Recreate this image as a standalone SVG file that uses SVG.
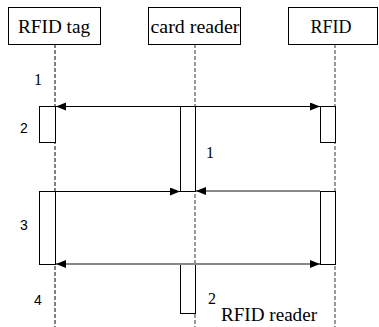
<svg xmlns="http://www.w3.org/2000/svg" width="379" height="327" viewBox="0 0 379 327">
<style>
.box{fill:#fff;stroke:#000;stroke-width:1}
.bar{fill:#fff;stroke:#000;stroke-width:1}
.title{font-family:'Liberation Serif','Times New Roman',serif;font-size:18px;fill:#000}
.num{font-family:'Liberation Sans',Arial,sans-serif;font-size:14px;fill:#000}
.snum{font-family:'Liberation Serif','Times New Roman',serif;font-size:16px;fill:#000}
.life1{stroke:#000;stroke-width:1;stroke-dasharray:4 2;fill:none}
.life2{stroke:#999;stroke-width:2;stroke-dasharray:4 2;fill:none}
.msg{stroke:#000;stroke-width:1;fill:none}
.msgg{stroke:#888;stroke-width:2;fill:none}
</style>
<defs>
<marker id="ah" markerUnits="userSpaceOnUse" markerWidth="12" markerHeight="10" refX="10" refY="4" orient="auto-start-reverse">
<path d="M0,0 L10,4 L0,8 Z" fill="#000"/>
</marker>
</defs>
<rect width="379" height="327" fill="#fff"/>
<g id="lifelines">
<line class="life1" x1="55" y1="44" x2="55" y2="327"/>
<line class="life2" x1="195" y1="44" x2="195" y2="327"/>
<line class="life2" x1="335" y1="44" x2="335" y2="327"/>
</g>
<g id="tag">
<rect class="box" x="8.5" y="7.5" width="92" height="37"/>
<text class="title" x="54" y="33" text-anchor="middle" textLength="72" lengthAdjust="spacingAndGlyphs">RFID tag</text>
</g>
<g id="cardreader">
<rect class="box" x="148.5" y="7.5" width="92" height="37"/>
<text class="title" x="195" y="33" text-anchor="middle" textLength="89" lengthAdjust="spacingAndGlyphs">card reader</text>
</g>
<g id="rfid">
<rect class="box" x="288.5" y="7.5" width="89" height="37"/>
<text class="title" x="331" y="33" text-anchor="middle">RFID</text>
</g>
<g id="bars">
<rect class="bar" x="39.5" y="106.5" width="16" height="36"/>
<rect class="bar" x="320.5" y="106.5" width="15" height="36"/>
<rect class="bar" x="180.5" y="106.5" width="15" height="85"/>
<rect class="bar" x="39.5" y="191.5" width="16" height="73"/>
<rect class="bar" x="320.5" y="191.5" width="15" height="73"/>
<rect class="bar" x="180.5" y="264.5" width="15" height="49"/>
</g>
<g id="connectors">
<line class="msg" x1="56" y1="106.5" x2="320" y2="106.5" marker-start="url(#ah)" marker-end="url(#ah)"/>
<line class="msg" x1="55" y1="191.5" x2="180" y2="191.5" marker-end="url(#ah)"/>
<line class="msgg" x1="320" y1="191" x2="196" y2="191" marker-end="url(#ah)"/>
<line class="msgg" x1="56" y1="264" x2="320" y2="264" marker-start="url(#ah)" marker-end="url(#ah)"/>
</g>
<g id="labels">
<text class="snum" x="34" y="85">1</text>
<text class="num" x="20" y="133">2</text>
<text class="num" x="20" y="230">3</text>
<text class="num" x="34" y="305">4</text>
<text class="snum" x="206" y="158">1</text>
<text class="snum" x="208" y="304">2</text>
<text class="title" x="221" y="321" textLength="96" lengthAdjust="spacingAndGlyphs">RFID reader</text>
</g>
</svg>
